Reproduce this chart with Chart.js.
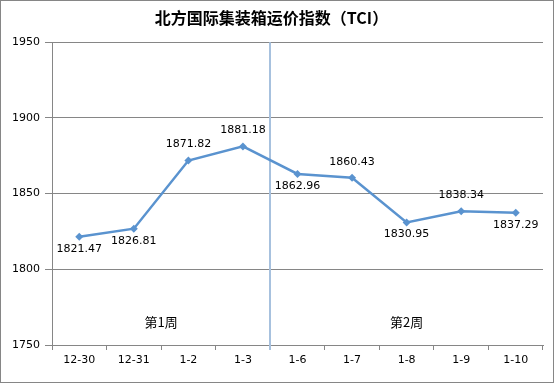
<!DOCTYPE html>
<html>
<head>
<meta charset="utf-8">
<script src="https://cdn.jsdelivr.net/npm/chart.js@4/dist/chart.umd.min.js"></script>
<style>
  html, body { margin: 0; padding: 0; background: #fff; }
  #wrap { width: 554px; height: 383px; }
</style>
</head>
<body>
<div id="wrap"><canvas id="tci"></canvas></div>
<script>
// TCI index values, two trading weeks
const dates = ['12-30', '12-31', '1-2', '1-3', '1-6', '1-7', '1-8', '1-9', '1-10'];
const tciValues = [1821.47, 1826.81, 1871.82, 1881.18, 1862.96, 1860.43, 1830.95, 1838.34, 1837.29];
const labelSide = ['below', 'below', 'above', 'above', 'below', 'above', 'below', 'above', 'below'];
const weekNames = ['第1周', '第2周'];
const weekCenters = [1.5, 6];   // category index at middle of each week
const weekSplit = 3.5;          // between 1-3 and 1-6
const yTicks = [1750, 1800, 1850, 1900, 1950];

const axisGray = '#868686';
const lineBlue = '#5A93CF';

// white background + outer frame
const framePlugin = {
  id: 'frame',
  beforeDraw(chart) {
    const ctx = chart.ctx;
    ctx.save();
    ctx.fillStyle = '#fff';
    ctx.fillRect(0, 0, chart.width, chart.height);
    ctx.strokeStyle = axisGray;
    ctx.lineWidth = 1;
    ctx.strokeRect(0.5, 0.5, chart.width - 1, chart.height - 1);
    ctx.restore();
  }
};

// week divider and week names
const weekPlugin = {
  id: 'weeks',
  beforeDatasetsDraw(chart) {
    const ctx = chart.ctx;
    const x = chart.scales.x;
    const y = chart.scales.y;
    const px = Math.round(x.getPixelForValue(weekSplit));
    ctx.save();
    ctx.strokeStyle = '#A7C1DE';
    ctx.lineWidth = 2;
    ctx.beginPath();
    ctx.moveTo(px, chart.chartArea.top);
    ctx.lineTo(px, chart.chartArea.bottom + 5);
    ctx.stroke();

    ctx.fillStyle = '#000';
    ctx.font = '13px "Noto Sans CJK SC"';
    ctx.textAlign = 'center';
    ctx.textBaseline = 'middle';
    weekNames.forEach((name, i) => {
      ctx.fillText(name, x.getPixelForValue(weekCenters[i]), y.getPixelForValue(1765));
    });
    ctx.restore();
  }
};

// value labels above / below each point
const valueLabels = {
  id: 'valueLabels',
  afterDatasetsDraw(chart) {
    const ctx = chart.ctx;
    const meta = chart.getDatasetMeta(0);
    ctx.save();
    ctx.fillStyle = '#000';
    ctx.font = '11px "DejaVu Sans"';
    ctx.textAlign = 'center';
    ctx.textBaseline = 'middle';
    meta.data.forEach((pt, i) => {
      const dy = labelSide[i] === 'above' ? -16 : 12;
      ctx.fillText(tciValues[i].toFixed(2), pt.x, pt.y + dy);
    });
    ctx.restore();
  }
};

new Chart(document.getElementById('tci'), {
  type: 'line',
  data: {
    labels: dates,
    datasets: [{
      data: tciValues,
      borderColor: lineBlue,
      backgroundColor: lineBlue,
      borderWidth: 2.5,
      pointStyle: 'rectRot',
      pointRadius: 4,
      pointBorderWidth: 0,
      tension: 0
    }]
  },
  options: {
    responsive: true,
    maintainAspectRatio: false,
    animation: false,
    layout: { padding: { left: 0, right: 11, top: 0, bottom: 0 } },
    plugins: {
      legend: { display: false },
      tooltip: { enabled: false },
      title: {
        display: true,
        text: '北方国际集装箱运价指数（TCI）',
        color: '#000',
        font: { family: '"Noto Sans CJK SC"', size: 16, weight: 'bold' },
        padding: { top: 8, bottom: 15 }
      }
    },
    scales: {
      x: {
        offset: true,
        afterFit(scale) { scale.height = 38; },
        grid: {
          offset: true,
          drawOnChartArea: false,
          drawTicks: true,
          tickLength: 5,
          color: axisGray
        },
        border: { color: axisGray },
        ticks: {
          color: '#000',
          font: { family: '"DejaVu Sans"', size: 11 },
          padding: 4,
          maxRotation: 0
        }
      },
      y: {
        min: 1750,
        max: 1950,
        afterFit(scale) { scale.width = 52; },
        afterBuildTicks(scale) { scale.ticks = yTicks.map(v => ({ value: v })); },
        grid: {
          color: axisGray,
          drawTicks: true,
          tickLength: 7
        },
        border: { color: axisGray },
        ticks: {
          color: '#000',
          font: { family: '"DejaVu Sans"', size: 11 },
          padding: 5,
          callback: v => String(v)
        }
      }
    }
  },
  plugins: [framePlugin, weekPlugin, valueLabels]
});
</script>
</body>
</html>
